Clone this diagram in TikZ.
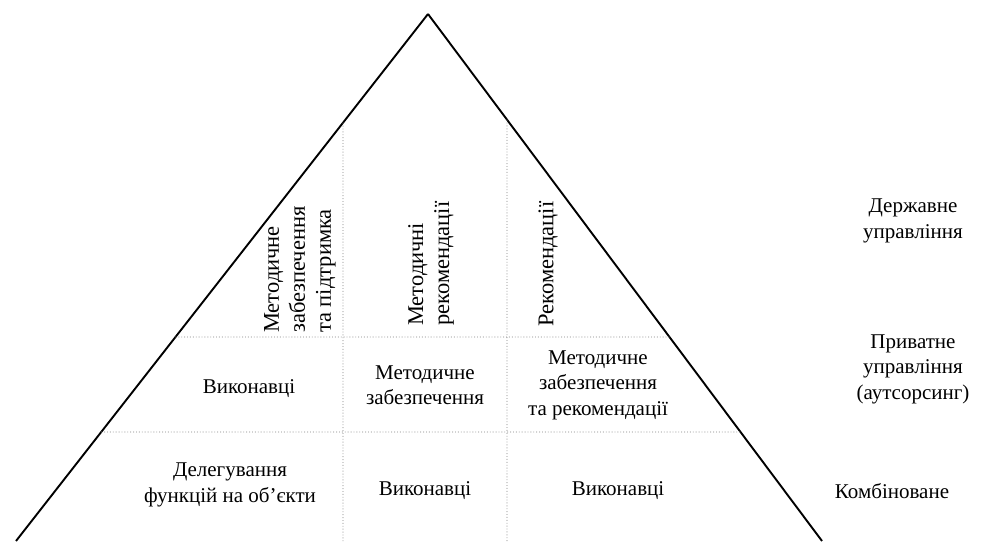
\documentclass[tikz,border=0pt]{standalone}
\usepackage{fontspec}
\setmainfont{Liberation Serif}
\newfontfamily\timesfont{Liberation Serif}
\usetikzlibrary{intersections}
\begin{document}
\begin{tikzpicture}[x=1pt,y=-1pt,
  tri/.style={line width=1.9pt, line join=miter},
  gridline/.style={black!50, dotted, line width=0.9pt},
  lbl/.style={font=\timesfont\fontsize{21}{25.5}\selectfont, align=center, inner sep=0pt},
  vlbl/.style={font=\timesfont\fontsize{22.5}{26}\selectfont, inner sep=0pt, rotate=90, align=left, anchor=west}]
\useasboundingbox (0,0) rectangle (982,541);
\coordinate (apex) at (428,14);
\coordinate (bl) at (16,541);
\coordinate (br) at (822,541);
\draw[tri, name path=L] (bl) -- (apex);
\draw[tri, name path=R] (apex) -- (br);
\path[name path=h1] (0,337) -- (982,337);
\path[name path=h2] (0,432) -- (982,432);
\path[name path=v1] (343,0) -- (343,541);
\path[name path=v2] (507,0) -- (507,541);
\path[name intersections={of=L and h1, by=h1l}];
\path[name intersections={of=R and h1, by=h1r}];
\path[name intersections={of=L and h2, by=h2l}];
\path[name intersections={of=R and h2, by=h2r}];
\path[name intersections={of=L and v1, by=v1t}];
\path[name intersections={of=R and v2, by=v2t}];
\coordinate (v1b) at (343,541);
\coordinate (v2b) at (507,541);
\draw[gridline] (h1l) -- (h1r);
\draw[gridline] (h2l) -- (h2r);
\draw[gridline] (v1t) -- (v1b);
\draw[gridline] (v2t) -- (v2b);

\node[lbl] (deleg) at (230,485) {Делегування\\функцій на об’єкти};
\node[lbl] (vyk2) at (425,491) {Виконавці};
\node[lbl] (vyk3) at (618,491) {Виконавці};
\node[lbl] (komb) at (892,491) {Комбіноване};
\node[lbl] (vyk1) at (249,389) {Виконавці};
\node[lbl] (mz) at (425,385) {Методичне\\забезпечення};
\node[lbl] (mzr) at (598,385) {Методичне\\забезпечення\\та рекомендації};
\node[lbl] (priv) at (913,369) {Приватне\\управління\\(аутсорсинг)};
\node[lbl] (derzh) at (913,221) {Державне\\управління};

\node[vlbl] (mzp) at (300,333) {Методичне\\забезпечення\\та підтримка};
\node[vlbl] (mr) at (431,326) {Методичні\\рекомендації};
\node[vlbl] (rek) at (548,327) {Рекомендації};
\end{tikzpicture}
\end{document}
